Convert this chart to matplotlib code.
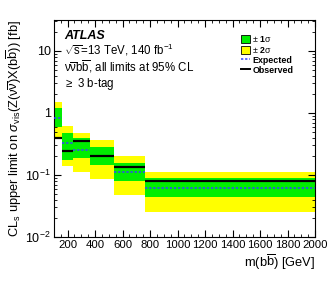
import matplotlib
matplotlib.use("Agg")
import matplotlib.pyplot as plt
from matplotlib.patches import Patch
from matplotlib.lines import Line2D
from matplotlib.ticker import FixedLocator, MultipleLocator, LogLocator, NullFormatter
import numpy as np

bin_edges = [100, 160, 240, 360, 540, 760, 2000]
observed = [0.39, 0.247, 0.35, 0.205, 0.133, 0.081]
expected = [0.84, 0.328, 0.256, 0.200, 0.111, 0.061]
sig1_lo = [0.59, 0.175, 0.186, 0.145, 0.079, 0.0437]
sig1_hi = [1.19, 0.476, 0.395, 0.286, 0.158, 0.0885]
sig2_lo = [0.40, 0.141, 0.113, 0.086, 0.0476, 0.0256]
sig2_hi = [1.52, 0.61, 0.476, 0.367, 0.202, 0.111]

x_ticks = [200, 400, 600, 800, 1000, 1200, 1400, 1600, 1800, 2000]
y_ticks = [0.01, 0.1, 1, 10]
y_ticklabels = [r'$10^{-2}$', r'$10^{-1}$', '1', '10']

plt.rcParams['font.family'] = ['Liberation Sans', 'DejaVu Sans']
plt.rcParams['mathtext.fontset'] = 'custom'
plt.rcParams['mathtext.rm'] = 'Liberation Sans'
plt.rcParams['mathtext.it'] = 'Liberation Sans:italic'
plt.rcParams['mathtext.bf'] = 'Liberation Sans:bold'
plt.rcParams['mathtext.sf'] = 'Liberation Sans'

fig = plt.figure(figsize=(3.32, 2.81), dpi=100)
ax = fig.add_axes([0.162, 0.157, 0.787, 0.772])

GREEN = '#00ee00'
YELLOW = '#ffff00'
BLUE = '#3344ff'

lo = np.array(bin_edges[:-1])
hi = np.array(bin_edges[1:])
w = hi - lo
ax.bar(lo, np.array(sig2_hi) - np.array(sig2_lo), width=w, bottom=sig2_lo,
       align='edge', color=YELLOW, linewidth=0, zorder=1)
ax.bar(lo, np.array(sig1_hi) - np.array(sig1_lo), width=w, bottom=sig1_lo,
       align='edge', color=GREEN, linewidth=0, zorder=2)
ax.hlines(expected, lo, hi, colors=BLUE, linestyles=(0, (1.5, 1.2)), linewidth=1.1, zorder=3)
ax.hlines(observed, lo, hi, colors='black', linewidth=1.6, zorder=4)

ax.set_yscale('log')
ax.set_xlim(100, 2000)
ax.set_ylim(0.01, 10**1.5)

ax.xaxis.set_major_locator(FixedLocator(x_ticks))
ax.xaxis.set_minor_locator(MultipleLocator(50))
ax.set_xticklabels([str(t) for t in x_ticks])
ax.yaxis.set_major_locator(FixedLocator(y_ticks))
ax.set_yticklabels(y_ticklabels)
ax.yaxis.set_minor_locator(LogLocator(base=10, subs=np.arange(2, 10)))
ax.yaxis.set_minor_formatter(NullFormatter())

ax.tick_params(which='both', direction='in', top=True, right=True, labelsize=8.2, pad=2)
ax.tick_params(axis='y', which='major', labelsize=9)
ax.tick_params(which='major', length=5, width=0.8)
ax.tick_params(which='minor', length=2.5, width=0.6)
for s in ax.spines.values():
    s.set_linewidth(0.8)

ax.set_xlabel(r'm(b$\overline{\mathrm{b}}$) [GeV]', fontsize=9.3, loc='right', labelpad=2)
ax.set_ylabel(r'CL$_{\mathrm{s}}$ upper limit on $\sigma_{\mathrm{vis}}$(Z($\mathrm{\nu}\overline{\mathrm{\nu}}$)X(b$\overline{\mathrm{b}}$)) [fb]',
              fontsize=9.3, labelpad=1)

ax.text(0.04, 0.926, 'ATLAS', transform=ax.transAxes, fontsize=9, fontweight='bold',
        fontstyle='italic', va='center', ha='left')
ax.text(0.04, 0.862, r'$\sqrt{\mathrm{s}}$=13 TeV, 140 fb$^{-1}$', transform=ax.transAxes,
        fontsize=8.3, va='center', ha='left')
ax.text(0.04, 0.784, r'$\mathrm{\nu}\overline{\mathrm{\nu}}$b$\overline{\mathrm{b}}$, all limits at 95% CL', transform=ax.transAxes,
        fontsize=8.3, va='center', ha='left')
ax.text(0.04, 0.705, r'$\geq$ 3 b-tag', transform=ax.transAxes,
        fontsize=8.3, va='center', ha='left')

handles = [Patch(facecolor=GREEN, edgecolor='black', linewidth=0.6),
           Patch(facecolor=YELLOW, edgecolor='black', linewidth=0.6),
           Line2D([], [], color=BLUE, linestyle=(0, (1.5, 1.2)), linewidth=1.1),
           Line2D([], [], color='black', linewidth=1.4)]
labels = [r'$\pm$ 1$\mathrm{\sigma}$', r'$\pm$ 2$\mathrm{\sigma}$', 'Expected', 'Observed']
leg = ax.legend(handles, labels, loc='upper right', bbox_to_anchor=(0.94, 0.965), frameon=False,
                prop={'size': 6.4, 'weight': 'bold'}, handlelength=1.0, handleheight=1.0,
                handletextpad=0.3, labelspacing=0.12, borderpad=0.2)

fig.savefig('out.png', dpi=100)
